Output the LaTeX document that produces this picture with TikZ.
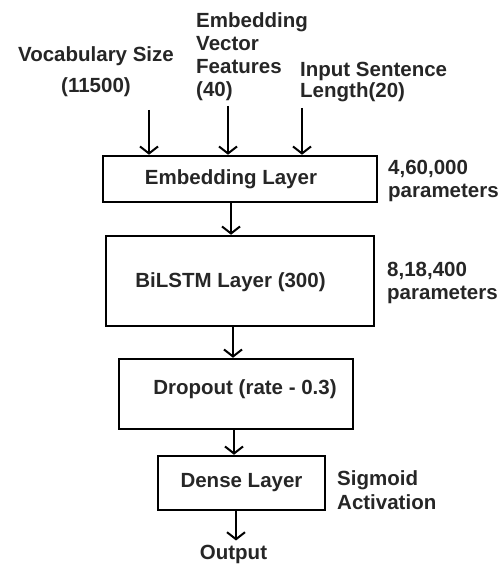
\documentclass[tikz,border=0pt]{standalone}
\usepackage{fontspec}
\setmainfont{Liberation Sans}
\usetikzlibrary{arrows.meta}
\definecolor{txt}{HTML}{262626}
\newcommand{\txtfont}{\fontsize{20.5}{23}\selectfont\bfseries}

\begin{document}
\begin{tikzpicture}[x=1pt,y=-1pt,
  every node/.append style={font=\txtfont,text=txt,inner sep=0pt},
  layer/.style={draw,line width=2.5pt},
  arr/.style={-{Straight Barb[length=7pt,width=18pt]},line width=2pt}]
  \useasboundingbox (0,0) rectangle (502,564);

  % inputs
  \node[align=center,anchor=north] (vocab) at (96,46) {Vocabulary Size\\[8.5pt](11500)};
  \node[align=left,anchor=north west] (evf) at (196,12.5) {Embedding\\Vector\\Features\\(40)};
  \node[align=left,anchor=north west] (isl) at (300,61.5) {Input Sentence\\[-2pt]Length(20)};
  \coordinate (vsin) at (149,110);
  \coordinate (evin) at (228,106);
  \coordinate (slin) at (302,108);

  % layers
  \node[layer,minimum width=274,minimum height=46,
    label={[xshift=-9]center:Embedding Layer}] (emb) at (240,179) {};
  \node[layer,minimum width=268,minimum height=90,
    label={[xshift=-9.5,yshift=-1.5]center:BiLSTM Layer (300)}] (bil) at (240,281) {};
  \node[layer,minimum width=234,minimum height=70,
    label={[xshift=9,yshift=4.4]center:Dropout (rate - 0.3)}] (drop) at (236,394) {};
  \node[layer,minimum width=167,minimum height=54,
    label={center:Dense Layer}] (dense) at (241.5,483) {};
  \node[anchor=base] (out) at (233.5,559) {Output};

  % side notes
  \node[align=left,anchor=north west] (embp) at (388,159.5) {4,60,000\\parameters};
  \node[align=left,anchor=north west] (bilp) at (387,261.5) {8,18,400\\parameters};
  \node[align=left,anchor=north west] (sig) at (337,470) {Sigmoid\\[1pt]Activation};

  % arrows
  \draw[arr] (vsin) -- (vsin |- emb.north);
  \draw[arr] (evin) -- (evin |- emb.north);
  \draw[arr] (slin) -- (slin |- emb.north);
  \draw[arr] ([xshift=-9]emb.south) -- ([xshift=-9]bil.north);
  \draw[arr] ([xshift=-7]bil.south) -- ([xshift=-3]drop.north);
  \draw[arr] ([xshift=-2]drop.south) -- ([xshift=-7.5]dense.north);
  \draw[arr,shorten >=4pt] ([xshift=-5.5]dense.south) -- ([xshift=2.5]out.north);
\end{tikzpicture}
\end{document}
